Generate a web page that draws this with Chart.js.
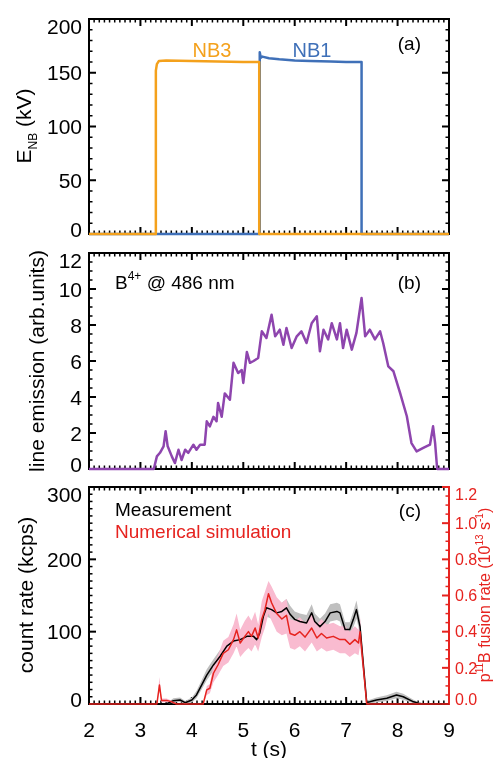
<!DOCTYPE html>
<html>
<head>
<meta charset="utf-8">
<script src="https://cdn.jsdelivr.net/npm/chart.js@4.4.0/dist/chart.umd.min.js"></script>
<style>
  body { margin: 0; background: #fff; }
  #wrap { position: relative; width: 496px; height: 758px; }
  canvas { position: absolute; left: 0; }
</style>
</head>
<body>
<div id="wrap">
  <canvas id="panelA" width="496" height="240" style="top:0px"></canvas>
  <canvas id="panelB" width="496" height="240" style="top:240px"></canvas>
  <canvas id="panelC" width="496" height="278" style="top:480px"></canvas>
</div>
<script>
// ---- data ----
var xRange = [2, 9];            // t (s)
var enbRange = [0, 200, 50];    // panel (a) min, max, step
var emisRange = [0, 12, 2];     // panel (b)
var countRange = [0, 300, 100]; // panel (c) left
var rateRange = [0, 1.2, 0.2];  // panel (c) right

// (a) beam energies
var nb3T = [2, 3.30, 3.30, 3.32, 3.36, 3.5, 4.0, 4.5, 5.0, 5.31, 5.31, 9];
var nb3V = [0, 0, 152, 158, 161, 161.5, 161, 160.5, 160, 160, 0, 0];
var nb1T = [2, 5.32, 5.32, 5.34, 5.37, 5.5, 5.7, 6.0, 6.3, 6.7, 7.0, 7.30, 7.30, 9];
var nb1V = [0, 0, 169, 164, 165, 163.5, 162.5, 161.5, 161, 160.5, 160, 160, 0, 0];

// (b) B4+ line emission
var emisT = [2, 3.26, 3.32, 3.38, 3.45, 3.49, 3.53, 3.61, 3.67, 3.74, 3.80, 3.87, 3.93, 4.03, 4.09, 4.16, 4.25, 4.29, 4.35, 4.42,
  4.48, 4.51, 4.58, 4.64, 4.74, 4.81, 4.90, 4.97, 5.00, 5.07, 5.13, 5.20, 5.29, 5.36, 5.45, 5.55, 5.62, 5.71, 5.78, 5.84,
  5.94, 6.04, 6.13, 6.23, 6.33, 6.43, 6.49, 6.56, 6.65, 6.72, 6.82, 6.88, 6.94, 7.01, 7.11, 7.20, 7.30, 7.37, 7.46, 7.56,
  7.66, 7.72, 7.82, 7.92, 8.05, 8.18, 8.27, 8.37, 8.50, 8.63, 8.69, 8.73, 8.77, 9];
var emisV = [0, 0, 0.7, 0.9, 1.26, 2.1, 1.26, 0.7, 0.33, 1.07, 0.5, 1.07, 0.9, 1.35, 1.07, 1.35, 1.35, 2.65, 2.37, 2.9,
  2.65, 3.67, 2.9, 4.2, 3.85, 5.9, 5.33, 5.5, 4.78, 6.5, 5.9, 6.0, 6.17, 7.65, 7.28, 8.57, 7.37, 7.74, 6.9, 7.83,
  6.72, 7.37, 7.65, 7.0, 8.1, 8.48, 6.54, 7.74, 7.2, 8.1, 7.2, 8.1, 6.72, 7.74, 6.63, 7.56, 9.5, 7.37, 7.74, 7.2,
  7.65, 7.0, 5.7, 5.43, 4.22, 2.93, 1.44, 0.98, 1.17, 1.35, 2.37, 1.44, 0, 0];

// (c) measured count rate (kcps) with uncertainty band
var measT = [2, 3.5, 3.64, 3.77, 3.87, 4.0, 4.09, 4.19, 4.29, 4.42, 4.55, 4.68, 4.81, 4.94, 5.07, 5.2, 5.26, 5.32, 5.39, 5.45,
  5.55, 5.65, 5.75, 5.84, 5.91, 6.0, 6.1, 6.23, 6.33, 6.39, 6.49, 6.59, 6.69, 6.82, 6.88, 6.98, 7.07, 7.14, 7.2, 7.27,
  7.4, 7.46, 7.59, 7.79, 7.98, 8.11, 8.31, 8.41, 8.5, 9];
var measV = [0, 0, 4.6, 5.5, 1.8, 5.5, 12.5, 26, 40, 54, 66, 80, 87, 89, 93.5, 93.5, 89, 98, 121, 133,
  130.5, 126, 128, 133, 124, 117, 114, 112, 126, 114, 107, 114, 126, 128, 126, 103, 103, 117, 130.5, 107,
  2, 3, 5.5, 8, 12.5, 10, 3, 1, 0, 0];
var measLo = [0, 0, 2, 3, 0, 2, 8, 20, 33, 46, 58, 71, 78, 80, 84, 84, 80, 88, 110, 121,
  118, 114, 116, 121, 112, 106, 103, 101, 114, 103, 97, 103, 114, 116, 114, 93, 93, 106, 118, 97,
  0, 1, 2, 4, 8, 6, 1, 0, 0, 0];
var measHi = [0, 0, 8, 9, 4, 9, 18, 33, 48, 62, 75, 89, 96, 98, 103, 103, 98, 108, 133, 146,
  143, 138, 140, 145, 136, 128, 125, 123, 138, 125, 118, 125, 138, 140, 138, 113, 113, 128, 143, 118,
  5, 6, 9, 12, 17, 14, 6, 2, 0, 0];

// (c) simulated p-11B fusion rate (1e13 /s) with band
var simT = [2, 3.32, 3.37, 3.41, 3.51, 3.6, 3.7, 4.22, 4.29, 4.35, 4.42, 4.51, 4.61, 4.71, 4.81, 4.87, 4.94, 5.03, 5.10, 5.16,
  5.23, 5.29, 5.36, 5.42, 5.49, 5.55, 5.65, 5.75, 5.84, 5.91, 6.0, 6.1, 6.2, 6.33, 6.43, 6.52, 6.62, 6.75, 6.88, 6.98,
  7.07, 7.17, 7.24, 7.27, 7.4, 9];
var simV = [0, 0, 0.105, 0.02, 0.02, 0.013, 0, 0, 0.078, 0.087, 0.17, 0.217, 0.28, 0.30, 0.356, 0.41, 0.337, 0.374, 0.40, 0.374,
  0.42, 0.365, 0.47, 0.52, 0.61, 0.56, 0.50, 0.47, 0.49, 0.39, 0.38, 0.40, 0.37, 0.42, 0.365, 0.39, 0.365, 0.374, 0.356, 0.356,
  0.33, 0.356, 0.337, 0.40, 0, 0];
var simLo = [0, 0, 0.07, 0.01, 0.01, 0.005, 0, 0, 0.05, 0.06, 0.12, 0.16, 0.21, 0.23, 0.28, 0.32, 0.26, 0.29, 0.31, 0.29,
  0.33, 0.29, 0.37, 0.42, 0.50, 0.46, 0.40, 0.38, 0.39, 0.31, 0.30, 0.32, 0.29, 0.34, 0.29, 0.31, 0.29, 0.30, 0.28, 0.28,
  0.26, 0.28, 0.27, 0.32, 0, 0];
var simHi = [0, 0, 0.15, 0.03, 0.03, 0.02, 0, 0, 0.10, 0.11, 0.22, 0.27, 0.35, 0.37, 0.44, 0.50, 0.41, 0.46, 0.49, 0.46,
  0.51, 0.44, 0.57, 0.62, 0.68, 0.65, 0.59, 0.56, 0.58, 0.47, 0.46, 0.48, 0.45, 0.50, 0.44, 0.47, 0.44, 0.45, 0.43, 0.43,
  0.40, 0.43, 0.41, 0.48, 0, 0];

// ---- styling ----
var FONT = "'Liberation Sans', Arial, Helvetica, sans-serif";
var ORANGE = '#F4A11C', BLUE = '#3F70B8', PURPLE = '#8E45AE', RED = '#E6231F', PINK = '#F9BBD0', GRAY = '#BFBFBF';

function pts(t, v) {
  return t.map(function(x, i) { return {x: x, y: v[i]}; });
}

function line(t, v, color, width, axis) {
  return {data: pts(t, v), borderColor: color, borderWidth: width, pointRadius: 0, fill: false,
          tension: 0, clip: false, yAxisID: axis || 'y', borderJoinStyle: 'round'};
}

function band(t, v, color, axis, fill) {
  return {data: pts(t, v), borderColor: 'transparent', borderWidth: 0, pointRadius: 0, backgroundColor: color,
          fill: fill, tension: 0, yAxisID: axis};
}

// text made of pieces: [text, size, dy]
function rich(ctx, parts, x, y, align, color, rot) {
  ctx.save();
  ctx.translate(x, y);
  if (rot) ctx.rotate(-Math.PI / 2);
  ctx.textBaseline = 'alphabetic';
  ctx.textAlign = 'left';
  ctx.fillStyle = color;
  var w = 0;
  parts.forEach(function(p) { ctx.font = p[1] + 'px ' + FONT; w += ctx.measureText(p[0]).width; });
  var cx = align === 'center' ? -w / 2 : (align === 'right' ? -w : 0);
  parts.forEach(function(p) {
    ctx.font = p[1] + 'px ' + FONT;
    ctx.fillText(p[0], cx, p[2] || 0);
    cx += ctx.measureText(p[0]).width;
  });
  ctx.restore();
}

function marks(ctx, s, minor, major, dir, a, color, side) {
  var n = Math.round((s.max - s.min) / minor);
  ctx.strokeStyle = color;
  for (var i = 0; i <= n; i++) {
    var v = s.min + i * minor;
    var r = v / major;
    var big = Math.abs(r - Math.round(r)) < 1e-6;
    var len = big ? 7 : 3.5;
    ctx.lineWidth = big ? 2 : 1.5;
    var p = s.getPixelForValue(v);
    ctx.beginPath();
    if (dir === 'x') {
      ctx.moveTo(p, a.bottom); ctx.lineTo(p, a.bottom - len);
      ctx.moveTo(p, a.top); ctx.lineTo(p, a.top + len);
    } else {
      if (side !== 'right') { ctx.moveTo(a.left, p); ctx.lineTo(a.left + len, p); }
      if (side !== 'left') { ctx.moveTo(a.right, p); ctx.lineTo(a.right - len, p); }
    }
    ctx.stroke();
  }
}

function yLabels(ctx, s, a, x, align, size, color) {
  ctx.save();
  ctx.font = size + 'px ' + FONT;
  ctx.fillStyle = color;
  ctx.textAlign = align;
  ctx.textBaseline = 'alphabetic';
  s.ticks.forEach(function(t) {
    var p = s.getPixelForValue(t.value);
    p = Math.min(Math.max(p, a.top + 7), a.bottom - 5);
    ctx.fillText(t.label, x, p + size * 0.36);
  });
  ctx.restore();
}

function framePlugin(opt) {
  return {
    id: 'frame',
    beforeDatasetsDraw: function(chart) {
      var ctx = chart.ctx, a = chart.chartArea;
      ctx.save();
      ctx.strokeStyle = '#000';
      ctx.lineWidth = 2;
      ctx.strokeRect(a.left, a.top, a.right - a.left, a.bottom - a.top);
      marks(ctx, chart.scales.x, 0.1, 1, 'x', a, '#000', 'both');
      marks(ctx, chart.scales.y, opt.yMinor, opt.yMajor, 'y', a, '#000', opt.y2 ? 'left' : 'both');
      if (opt.y2) {
        ctx.strokeStyle = RED;
        ctx.lineWidth = 2;
        ctx.beginPath(); ctx.moveTo(a.right, a.top - 1); ctx.lineTo(a.right, a.bottom + 1); ctx.stroke();
        marks(ctx, chart.scales.y2, opt.y2Minor, opt.y2Major, 'y', a, RED, 'right');
      }
      ctx.restore();
    },
    afterDraw: function(chart) {
      var ctx = chart.ctx, a = chart.chartArea;
      yLabels(ctx, chart.scales.y, a, a.left - 7, 'right', 21, '#000');
      if (opt.y2) yLabels(ctx, chart.scales.y2, a, a.right + 6, 'left', 16, RED);
      opt.texts.forEach(function(t) {
        rich(ctx, t.parts, t.x, t.y, t.align, t.color, t.rot);
      });
    }
  };
}

function yScale(r) {
  return {
    min: r[0], max: r[1],
    ticks: {display: false, stepSize: r[2]},
    grid: {display: false, drawTicks: false},
    border: {display: false},
    afterFit: function(sc) { sc.width = 89; }
  };
}

function opts(padding, scales) {
  return {
    responsive: false, animation: false, events: [],
    layout: {padding: padding},
    plugins: {legend: {display: false}, tooltip: {enabled: false}},
    scales: scales
  };
}

// panel (a)
new Chart(document.getElementById('panelA'), {
  type: 'line',
  data: {datasets: [
    line(nb3T, nb3V, ORANGE, 2.5),
    line(nb1T, nb1V, BLUE, 2.5)
  ]},
  options: opts({left: 0, right: 47, top: 19, bottom: 6}, {
    x: {type: 'linear', min: xRange[0], max: xRange[1], display: false},
    y: yScale(enbRange)
  }),
  plugins: [framePlugin({
    yMinor: 10, yMajor: 50,
    texts: [
      {parts: [['NB3', 20]], x: 212, y: 57, align: 'center', color: ORANGE},
      {parts: [['NB1', 20]], x: 312, y: 57, align: 'center', color: BLUE},
      {parts: [['(a)', 19]], x: 421, y: 50, align: 'right', color: '#000'},
      {parts: [['E', 21], ['NB', 12, 6], [' (kV)', 21]], x: 31, y: 126, align: 'center', color: '#000', rot: true}
    ]
  })]
});

// panel (b)
new Chart(document.getElementById('panelB'), {
  type: 'line',
  data: {datasets: [
    line(emisT, emisV, PURPLE, 2.5)
  ]},
  options: opts({left: 0, right: 47, top: 13, bottom: 11}, {
    x: {type: 'linear', min: xRange[0], max: xRange[1], display: false},
    y: yScale(emisRange)
  }),
  plugins: [framePlugin({
    yMinor: 0.5, yMajor: 2,
    texts: [
      {parts: [['B', 19], ['4+', 12, -9], [' @ 486 nm', 19]], x: 115, y: 49, align: 'left', color: '#000'},
      {parts: [['(b)', 19]], x: 421, y: 49, align: 'right', color: '#000'},
      {parts: [['line emission (arb.units)', 21]], x: 44, y: 121, align: 'center', color: '#000', rot: true}
    ]
  })]
});

// panel (c)
new Chart(document.getElementById('panelC'), {
  type: 'line',
  data: {datasets: [
    line(simT, simV, RED, 1.5, 'y2'),
    line(measT, measV, '#000', 1.5, 'y'),
    band(simT, simHi, PINK, 'y2', '+1'),
    band(simT, simLo, PINK, 'y2', false),
    band(measT, measHi, GRAY, 'y', '+1'),
    band(measT, measLo, GRAY, 'y', false)
  ]},
  options: opts({left: 0, right: 0, top: 7, bottom: 0}, {
    x: {
      type: 'linear', min: xRange[0], max: xRange[1],
      ticks: {stepSize: 1, autoSkip: false, maxRotation: 0, padding: 15, color: '#000', font: {family: FONT, size: 21}},
      grid: {display: false, drawTicks: false},
      border: {display: false},
      title: {display: true, text: 't (s)', color: '#000', font: {family: FONT, size: 21, lineHeight: 0.7}, padding: 0},
      afterFit: function(sc) { sc.height = 54; }
    },
    y: yScale(countRange),
    y2: {
      position: 'right', min: rateRange[0], max: rateRange[1],
      ticks: {display: false, stepSize: rateRange[2], callback: function(v) { return v.toFixed(1); }},
      grid: {display: false, drawTicks: false},
      border: {display: false},
      afterFit: function(sc) { sc.width = 47; }
    }
  }),
  plugins: [framePlugin({
    yMinor: 10, yMajor: 100, y2: true, y2Minor: 0.05, y2Major: 0.2,
    texts: [
      {parts: [['Measurement', 19]], x: 115, y: 36, align: 'left', color: '#000'},
      {parts: [['Numerical simulation', 19]], x: 115, y: 58, align: 'left', color: RED},
      {parts: [['(c)', 19]], x: 421, y: 37, align: 'right', color: '#000'},
      {parts: [['count rate (kcps)', 21]], x: 33, y: 115, align: 'center', color: '#000', rot: true},
      {parts: [['p', 16], ['11', 10, -7], ['B fusion rate (10', 16], ['13', 10, -7], [' s', 16], ['-1', 10, -7], [')', 16]],
       x: 490, y: 115, align: 'center', color: RED, rot: true}
    ]
  })]
});
</script>
</body>
</html>
